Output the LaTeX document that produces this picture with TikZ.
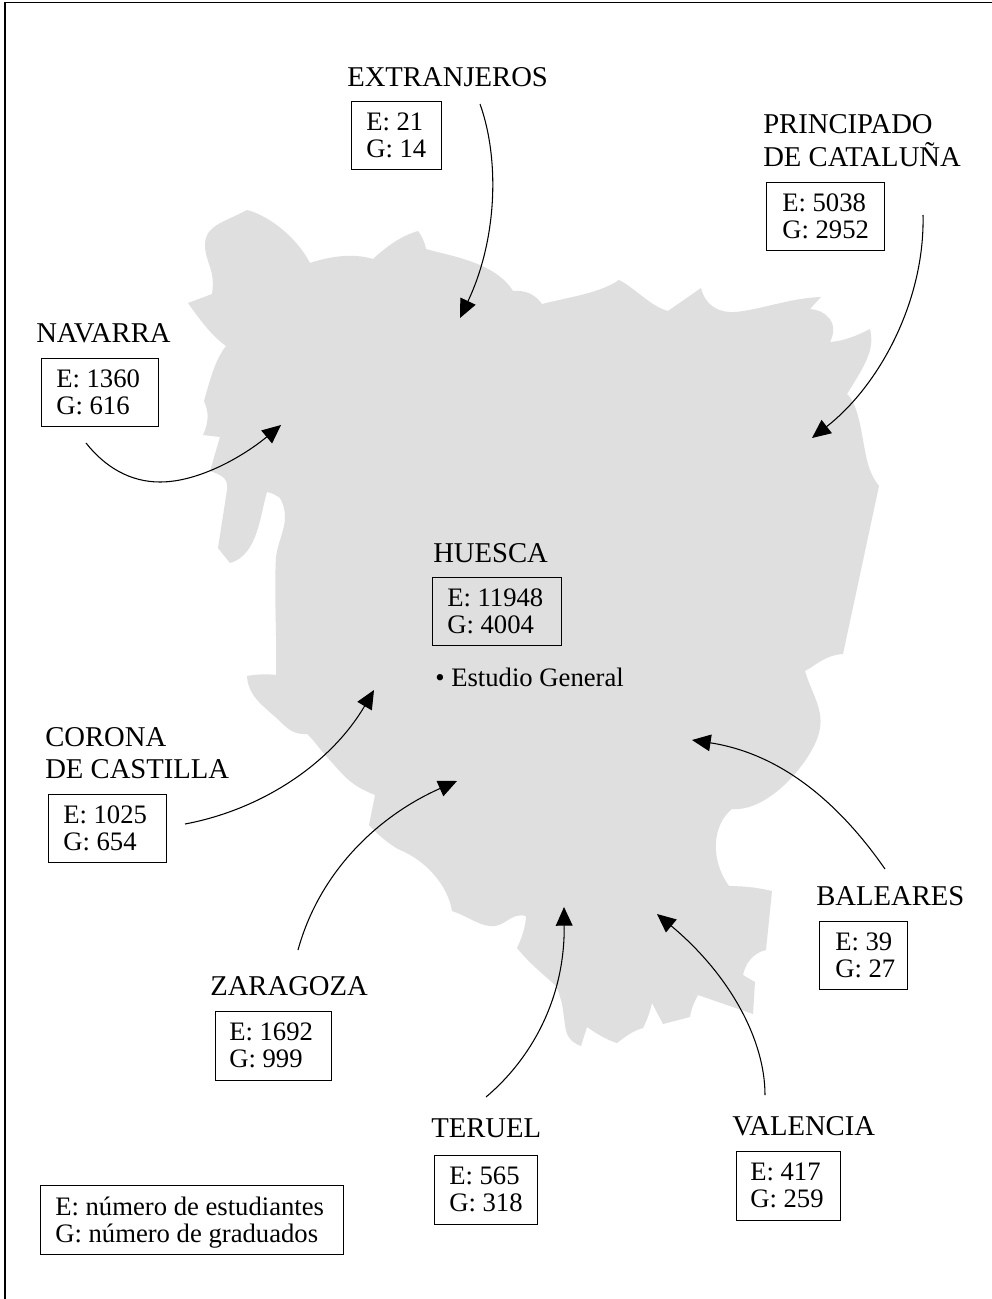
\documentclass[tikz,border=0pt]{standalone}
\usepackage{fontspec}
\setmainfont{Liberation Serif}
\usetikzlibrary{arrows.meta}
\definecolor{land}{HTML}{DFDFDF}
\tikzset{
  x=0.75pt,y=-0.75pt,
  head/.style={font=\fontsize{21.5pt}{24pt}\selectfont,anchor=base west,inner sep=0pt},
  datatext/.style={font=\fontsize{20pt}{22pt}\selectfont,anchor=base west,inner sep=0pt},
  databox/.style={draw=black,line width=0.8pt,inner sep=0pt,anchor=north west},
  link/.style={draw=black,line width=0.8pt,-{Triangle[length=14pt,width=12.5pt]}},
}
\newcommand{\dbox}[7]{\node[databox,minimum width=#3*0.75pt,minimum height=#4*0.75pt] (#7) at (#1,#2) {};
 \node[datatext] (#7a) at (#1+#5,#2+#6) {E: \csname v#7a\endcsname};
 \node[datatext] (#7b) at (#1+#5,#2+#6+27) {G: \csname v#7b\endcsname};}
\begin{document}
\begin{tikzpicture}
\useasboundingbox (0,0) rectangle (992,1299);
\fill[white] (0,0) rectangle (992,1299);
\fill[land] (247,210) .. controls (270,216) and (297,238) .. (310,263)
 .. controls (325,258) and (350,252) .. (373,259)
 .. controls (385,248) and (400,236) .. (418,231)
 .. controls (422,236) and (425,243) .. (426,249)
 .. controls (450,256) and (495,262) .. (513,291)
 .. controls (525,290) and (535,294) .. (542,304)
 .. controls (570,297) and (600,293) .. (619,280)
 .. controls (635,288) and (650,306) .. (668,311)
 -- (701,288)
 .. controls (705,305) and (718,313) .. (735,312)
 .. controls (760,310) and (790,298) .. (821,297)
 -- (810,309)
 .. controls (825,310) and (840,322) .. (830,342)
 .. controls (845,341) and (858,335) .. (870,329)
 .. controls (875,350) and (865,365) .. (847,394)
 .. controls (862,408) and (862,450) .. (870,470)
 .. controls (873,478) and (876,482) .. (879,486)
 -- (843,654)
 .. controls (825,655) and (815,666) .. (805,671)
 .. controls (812,695) and (825,710) .. (819,733)
 .. controls (812,760) and (770,812) .. (732,809)
 .. controls (712,825) and (710,860) .. (729,886)
 .. controls (745,886) and (760,888) .. (772,891)
 -- (766,950)
 .. controls (752,953) and (745,965) .. (743,975)
 -- (755,982) -- (753,1014) -- (698,995)
 .. controls (694,1002) and (691,1010) .. (690,1017)
 -- (663,1024) -- (652,1003)
 .. controls (650,1012) and (647,1020) .. (643,1028)
 .. controls (632,1031) and (625,1037) .. (617,1043)
 .. controls (607,1040) and (597,1034) .. (587,1027)
 -- (581,1046)
 .. controls (570,1042) and (566,1035) .. (565,1025)
 .. controls (563,1012) and (563,1005) .. (560,997)
 .. controls (558,988) and (555,985) .. (555,985)
 .. controls (543,974) and (530,964) .. (517,948)
 .. controls (522,938) and (526,925) .. (526,916)
 .. controls (510,912) and (505,928) .. (490,926)
 .. controls (478,925) and (465,915) .. (452,911)
 .. controls (448,885) and (425,860) .. (400,850)
 .. controls (390,845) and (378,835) .. (369,825)
 -- (375,795)
 .. controls (350,785) and (345,777) .. (327,757)
 .. controls (318,747) and (312,738) .. (307,734)
 .. controls (290,735) and (285,725) .. (273,715)
 .. controls (262,705) and (248,695) .. (247,676)
 .. controls (258,674) and (268,674) .. (276,675)
 .. controls (277,640) and (274,590) .. (276,557)
 .. controls (279,535) and (292,520) .. (280,498)
 .. controls (276,495) and (272,493) .. (267,492)
 .. controls (260,515) and (258,555) .. (230,563)
 -- (218,548) -- (227,490)
 .. controls (228,480) and (225,476) .. (210,471)
 -- (220,437) -- (203,435)
 .. controls (210,420) and (208,410) .. (204,401)
 .. controls (210,380) and (215,360) .. (226,346)
 .. controls (212,336) and (200,320) .. (188,303)
 -- (212,294)
 .. controls (216,270) and (205,262) .. (205,245)
 .. controls (205,225) and (225,222) .. (247,210)
 -- cycle;
% frame
\draw[line width=0.9pt,black] (5,1299) -- (5,2.5) -- (992,2.5);
% headings
\node[head] (h1) at (347,86) {EXTRANJEROS};
\node[head] (h2a) at (763,133) {PRINCIPADO};
\node[head] (h2b) at (763,166) {DE CATALUÑA};
\node[head] (h3) at (36,342) {NAVARRA};
\node[head] (h4) at (433,562) {HUESCA};
\node[head] (h5a) at (45,746) {CORONA};
\node[head] (h5b) at (45,778) {DE CASTILLA};
\node[head] (h6) at (816,905) {BALEARES};
\node[head] (h7) at (210,995) {ZARAGOZA};
\node[head] (h8) at (431,1137) {TERUEL};
\node[head] (h9) at (732,1135) {VALENCIA};
\node[datatext] (sg) at (435,686) {• Estudio General};
% boxes
\def\vxa{21}\def\vxb{14}
\dbox{351}{101}{90}{68}{15}{29}{x}
\def\vpa{5038}\def\vpb{2952}
\dbox{766}{182}{118}{68}{16}{29}{p}
\def\vna{1360}\def\vnb{616}
\dbox{41}{358}{117}{68}{15}{29}{n}
\def\vha{11948}\def\vhb{4004}
\dbox{432}{577}{129}{68}{15}{29}{h}
\def\vca{1025}\def\vcb{654}
\dbox{48}{794}{118}{68}{15}{29}{c}
\def\vba{39}\def\vbb{27}
\dbox{819}{921}{88}{68}{16}{29}{b}
\def\vza{1692}\def\vzb{999}
\dbox{215}{1011}{116}{69}{14}{29}{z}
\def\vta{565}\def\vtb{318}
\dbox{434}{1155}{103}{69}{15}{29}{t}
\def\vva{417}\def\vvb{259}
\dbox{736}{1151}{104}{69}{14}{29}{v}
\node[databox,minimum width=303*0.75pt,minimum height=69*0.75pt] (legend) at (40,1185) {};
\node[datatext] (l1) at (55,1215) {E: número de estudiantes};
\node[datatext] (l2) at (55,1242) {G: número de graduados};
% connector ends
\coordinate (s1) at (480,104); \coordinate (e1) at (460,318);
\coordinate (s2) at (923,215); \coordinate (e2) at (812,438);
\coordinate (s3) at (86,443); \coordinate (m3) at (160,482); \coordinate (e3) at (281,425);
\coordinate (s5) at (185,824); \coordinate (e5) at (374,690);
\coordinate (s7) at (298,950); \coordinate (e7) at (457,781);
\coordinate (s8) at (486,1097); \coordinate (e8) at (564,907);
\coordinate (s9) at (765,1095); \coordinate (e9) at (657,914);
\coordinate (s6) at (885,869); \coordinate (e6) at (692,740);
\draw[link] (s1) .. controls (500,160) and (497,240) .. (e1);
\draw[link] (s2) .. controls (925,300) and (880,385) .. (e2);
\draw[link] (s3) .. controls (105,467) and (130,482) .. (m3) .. controls (200,482) and (245,455) .. (e3);
\draw[link] (s5) .. controls (260,810) and (330,765) .. (e5);
\draw[link] (s7) .. controls (320,870) and (380,815) .. (e7);
\draw[link] (s8) .. controls (530,1060) and (565,1000) .. (e8);
\draw[link] (s9) .. controls (765,1040) and (730,975) .. (e9);
\draw[link] (s6) .. controls (830,790) and (770,752) .. (e6);
\end{tikzpicture}
\end{document}
